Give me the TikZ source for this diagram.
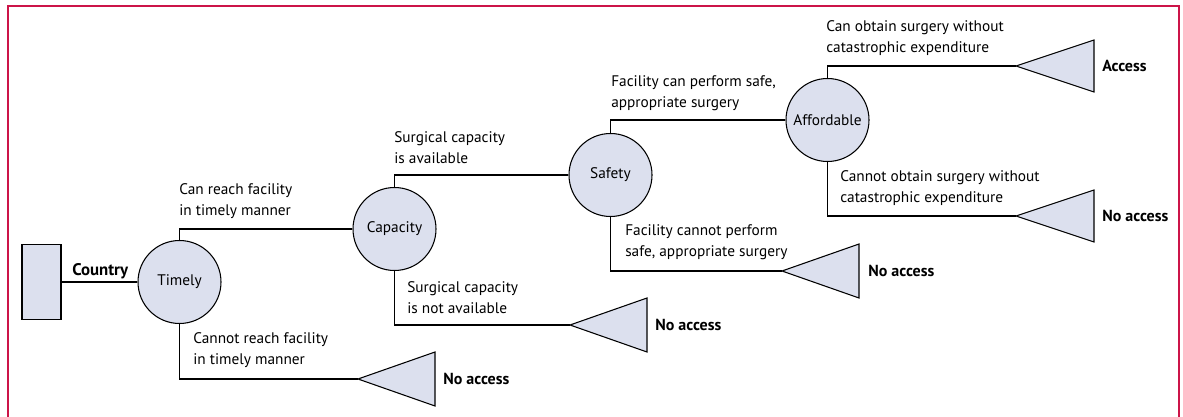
\documentclass[tikz,border=0pt]{standalone}
\usepackage{fontspec}
\setmainfont{PT Sans}
\definecolor{nodefill}{RGB}{220,224,238}
\definecolor{framered}{RGB}{204,20,72}

\tikzset{
  chance/.style={circle, draw, fill=nodefill, line width=0.8pt, minimum size=62.25pt, inner sep=0pt},
  branch/.style={anchor=west, align=left, inner sep=0pt},
  outcome/.style={anchor=west, inner sep=0pt, font=\fontsize{12}{15}\selectfont\bfseries},
  edge/.style={line width=0.8pt},
  leaf/.style={draw, fill=nodefill, line width=0.8pt, line join=miter}
}

\begin{document}
\begin{tikzpicture}[x=0.75pt, y=-0.75pt, font=\fontsize{11.5}{15.75}\selectfont]

  \useasboundingbox (0,0) rectangle (1183,417);
  \draw[framered, line width=1.5pt] (8,417) -- (8,6) -- (1179,6) -- (1179,417);

  % decision nodes
  \node[draw, fill=nodefill, line width=0.8pt, minimum width=29.25pt, minimum height=56.25pt] (country) at (41.5,282) {};
  \node[chance] (timely) at (179.5,282) {Timely};
  \node[chance] (capacity) at (394.5,229) {Capacity};
  \node[chance] (safety) at (610.5,175) {Safety};
  \node[chance] (afford) at (827.5,120) {Affordable};

  % end points
  \coordinate (t1) at (358,379);
  \coordinate (t2) at (570,325);
  \coordinate (t3) at (782,271);
  \coordinate (t4) at (1016,66);
  \coordinate (t5) at (1016,216);

  \filldraw[leaf] (t1) -- ++(77,-27) -- ++(0,54) -- cycle;
  \filldraw[leaf] (t2) -- ++(77,-27) -- ++(0,54) -- cycle;
  \filldraw[leaf] (t3) -- ++(77,-27) -- ++(0,54) -- cycle;
  \filldraw[leaf] (t4) -- ++(78,-26) -- ++(0,52) -- cycle;
  \filldraw[leaf] (t5) -- ++(78,-26) -- ++(0,52) -- cycle;

  % branches
  \draw[edge] (country) -- (timely);
  \draw[edge] (timely.north) |- (capacity.west);
  \draw[edge] (timely.south) |- (t1);
  \draw[edge] (capacity.north) |- (safety.west);
  \draw[edge] (capacity.south) |- (t2);
  \draw[edge] (safety.north) |- (afford.west);
  \draw[edge] (safety.south) |- (t3);
  \draw[edge] (afford.north) |- (t4);
  \draw[edge] (afford.south) |- (t5);

  % labels
  \node[anchor=base west, inner sep=0pt, font=\fontsize{12.6}{15}\selectfont\bfseries] (lcountry) at (72,276) {Country};
  \node[branch] (l1) at (179,201.5) {Can reach facility\\in timely manner};
  \node[branch] (l2) at (193,350.5) {Cannot reach facility\\in timely manner};
  \node[branch] (l3) at (394,147.5) {Surgical capacity\\is available};
  \node[branch] (l4) at (407,297.5) {Surgical capacity\\is not available};
  \node[branch] (l5) at (611,93.5) {Facility can perform safe,\\appropriate surgery};
  \node[branch] (l6) at (625,242.5) {Facility cannot perform\\safe, appropriate surgery};
  \node[branch] (l7) at (826,38) {Can obtain surgery without\\catastrophic expenditure};
  \node[branch] (l8) at (840,188.5) {Cannot obtain surgery without\\catastrophic expenditure};

  \node[outcome] (o1) at (443,379) {No access};
  \node[outcome] (o2) at (655,325) {No access};
  \node[outcome] (o3) at (868,271) {No access};
  \node[outcome] (o4) at (1102,66) {Access};
  \node[outcome] (o5) at (1102,216) {No access};

\end{tikzpicture}
\end{document}
